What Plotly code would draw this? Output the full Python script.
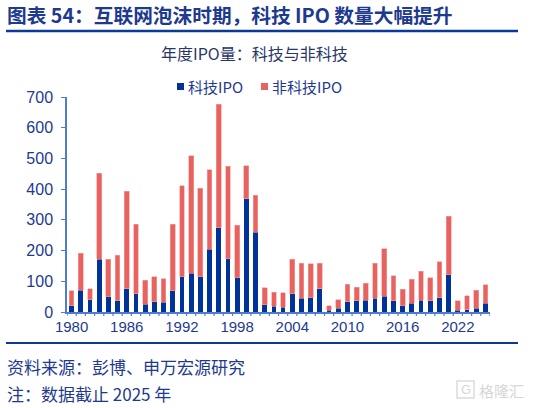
import plotly.graph_objects as go

years = [str(y) for y in range(1980, 2026)]
tech = [21, 71, 40, 172, 49, 36, 75, 59, 26, 33, 32, 70, 114, 126, 114, 204, 274, 173, 111, 369, 260, 23, 19,
        16, 60, 44, 46, 75, 5, 13, 33, 36, 39, 44, 52, 36, 20, 29, 38, 36, 46, 121, 5, 8, 13, 29]
total = [70, 192, 75, 451, 171, 185, 393, 285, 103, 114, 109, 285, 411, 509, 403, 463, 677, 474, 282, 476, 380, 79, 65,
         62, 172, 159, 157, 159, 21, 40, 90, 81, 94, 159, 206, 118, 74, 106, 133, 112, 164, 311, 37, 53, 71, 89]
nontech = [t - a for t, a in zip(total, tech)]
tick_labels = ["1980", "1986", "1992", "1998", "2004", "2010", "2016", "2022"]
series_names = ["科技IPO", "非科技IPO"]

BLUE = "#003399"
RED = "#E8625F"
NAVY = "#1d3a8f"
AXIS = "#4F7BD0"
CJK = "Noto Sans CJK SC, Liberation Sans, sans-serif"
LAT = "Liberation Sans, Arial, sans-serif"

fig = go.Figure()
fig.add_trace(go.Bar(x=years, y=tech, name=series_names[0], marker=dict(color=BLUE, line=dict(width=0))))
fig.add_trace(go.Bar(x=years, y=nontech, name=series_names[1],
                     marker=dict(color=RED, line=dict(color="#F4A09E", width=0.6))))

W, H = 551, 408
x0, x1 = 67, 490
ytop, ybot = 97, 312


def px(x):
    return x / W


def py(y):
    return (H - y) / H


fig.update_layout(
    template=None,
    width=W, height=H, barmode="stack", bargap=0.48,
    margin=dict(l=0, r=0, t=0, b=0, autoexpand=False),
    paper_bgcolor="white", plot_bgcolor="white",
    showlegend=False,
    xaxis=dict(domain=[px(x0), px(x1)], type="category", tickmode="array",
               tickvals=tick_labels, ticktext=tick_labels, showline=True, automargin=False,
               linecolor=AXIS, linewidth=1.5, ticks="", showgrid=False, zeroline=False,
               tickfont=dict(family=LAT, size=15, color=NAVY), range=[-0.5, 45.5]),
    yaxis=dict(domain=[py(ybot), py(ytop)], range=[0, 700], dtick=100, automargin=False,
               showline=True, linecolor=AXIS, linewidth=1.5, ticks="outside",
               ticklen=4, tickcolor=AXIS, showgrid=False, zeroline=False,
               ticklabelstandoff=5,
               tickfont=dict(family=LAT, size=16, color=NAVY)),
    font=dict(family=CJK),
)

shapes = []
for i in range(47):
    shapes.append(dict(type="line", xref="x", yref="paper", x0=i - 0.5, x1=i - 0.5,
                       y0=py(ybot), y1=py(ybot + 4), line=dict(color=AXIS, width=1.2)))
shapes.append(dict(type="line", xref="paper", yref="paper", x0=px(6), x1=px(518),
                   y0=py(31), y1=py(31), line=dict(color="#0b3a96", width=2.5)))
shapes.append(dict(type="line", xref="paper", yref="paper", x0=px(6), x1=px(518),
                   y0=py(343), y1=py(343), line=dict(color="#0b3a96", width=2)))
# legend squares
shapes.append(dict(type="rect", xref="paper", yref="paper", x0=px(177), x1=px(184),
                   y0=py(90), y1=py(83), fillcolor=BLUE, line=dict(width=0)))
shapes.append(dict(type="rect", xref="paper", yref="paper", x0=px(261), x1=px(268),
                   y0=py(90), y1=py(83), fillcolor=RED, line=dict(width=0)))
# watermark logo box
shapes.append(dict(type="rect", xref="paper", yref="paper", x0=px(457), x1=px(474),
                   y0=py(398), y1=py(381), line=dict(color="#dcdcdc", width=1.5)))
fig.update_layout(shapes=shapes)

ann = [
    dict(text="<b>图表 54：互联网泡沫时期，科技 IPO 数量大幅提升</b>", x=px(5), y=py(15),
         xanchor="left", yanchor="middle", font=dict(family=CJK, size=19.7, color=NAVY)),
    dict(text="年度IPO量：科技与非科技", x=px(255), y=py(53), xanchor="center", yanchor="middle",
         font=dict(family=CJK, size=16, color="#2b3566")),
    dict(text=series_names[0], x=px(186), y=py(86), xanchor="left", yanchor="middle",
         font=dict(family=CJK, size=15, color=NAVY)),
    dict(text=series_names[1], x=px(270), y=py(86), xanchor="left", yanchor="middle",
         font=dict(family=CJK, size=15, color=NAVY)),
    dict(text="资料来源：彭博、申万宏源研究", x=px(5), y=py(366), xanchor="left", yanchor="middle",
         font=dict(family=CJK, size=17, color=NAVY)),
    dict(text="注：数据截止 2025 年", x=px(5), y=py(393), xanchor="left", yanchor="middle",
         font=dict(family=CJK, size=17, color=NAVY)),
    dict(text="G", x=px(465.5), y=py(389.5), xanchor="center", yanchor="middle",
         font=dict(family=LAT, size=13, color="#d6d6d6")),
    dict(text="格隆汇", x=px(526), y=py(390), xanchor="right", yanchor="middle",
         font=dict(family=CJK, size=15, color="#d6d6d6")),
]
for a in ann:
    a.update(xref="paper", yref="paper", showarrow=False)
fig.update_layout(annotations=ann)

fig.write_html("out.html", config={"displayModeBar": False},
               post_script="document.body.style.margin='0';document.body.style.overflow='hidden';")
